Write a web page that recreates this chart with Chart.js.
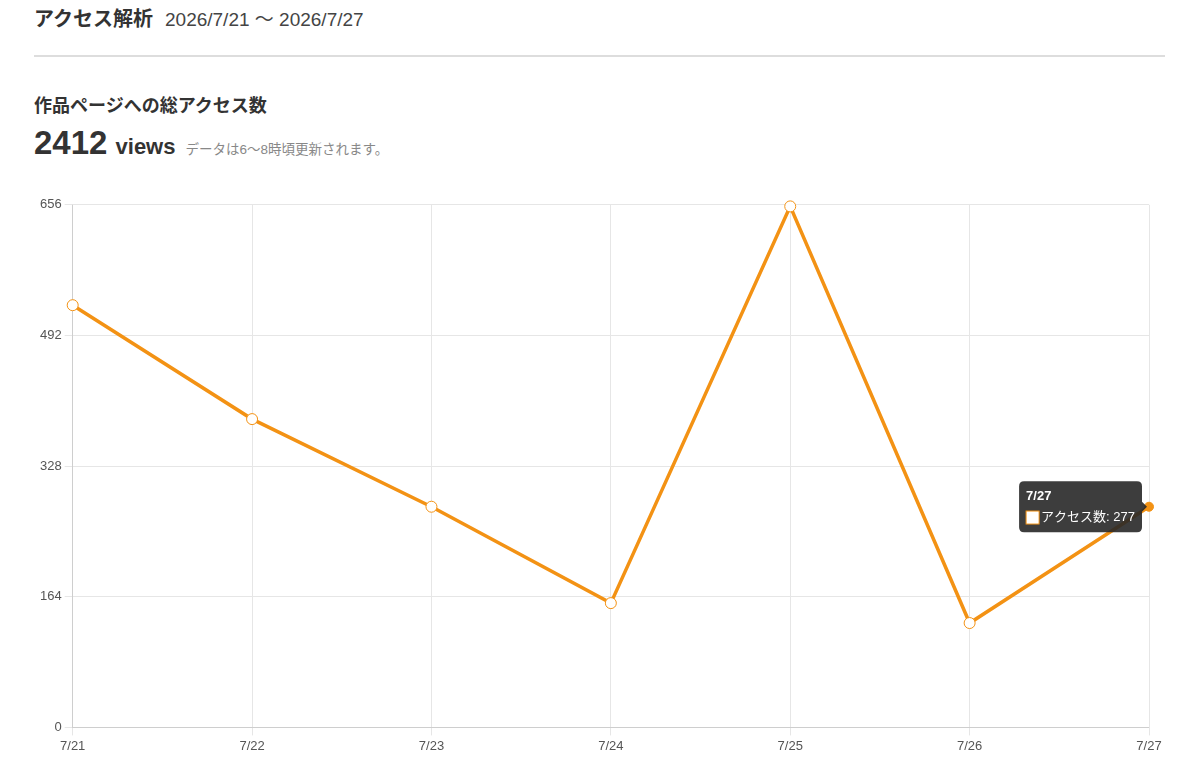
<!DOCTYPE html>
<html lang="ja">
<head>
<meta charset="utf-8">
<title>アクセス解析</title>
<script src="https://cdn.jsdelivr.net/npm/chart.js@4"></script>
<style>
  body {
    margin: 0;
    background: #fff;
    font-family: 'Liberation Sans', 'Noto Sans CJK JP', sans-serif;
    color: #333;
  }
  .cabecalho {
    position: absolute;
    left: 34px;
    top: 3px;
    width: 1131px;
    height: 52px;
    border-bottom: 2px solid #ddd;
  }
  .cabecalho h1 {
    margin: 0;
    font-size: 20px;
    font-weight: bold;
    display: inline-block;
  }
  .cabecalho .periodo {
    font-size: 19px;
    color: #444;
    margin-left: 12px;
  }
  .resumo {
    position: absolute;
    left: 34px;
    top: 91px;
  }
  .resumo h2 {
    margin: 0;
    font-size: 18px;
    font-weight: bold;
  }
  .total {
    margin-top: 7px;
    white-space: nowrap;
  }
  .total .num { font-size: 33px; font-weight: bold; }
  .total .unid { font-size: 22px; font-weight: bold; margin-left: 2px; }
  .total .nota { font-size: 13.5px; color: #888; margin-left: 10px; }
  #grafico {
    position: absolute;
    left: 34px;
    top: 194px;
  }
</style>
</head>
<body>
<div class="cabecalho">
  <h1>アクセス解析</h1><span class="periodo">2026/7/21 〜 2026/7/27</span>
</div>
<div class="resumo">
  <h2>作品ページへの総アクセス数</h2>
  <div class="total"><span class="num">2412</span><span class="unid"> views</span><span class="nota">データは6〜8時頃更新されます。</span></div>
</div>
<canvas id="grafico" width="1131" height="563"></canvas>
<script>
// Dados do gráfico
const dias = ['7/21', '7/22', '7/23', '7/24', '7/25', '7/26', '7/27'];
const acessos = [530, 387, 277, 156, 654, 131, 277];
const rotuloSerie = 'アクセス数';
const maximoY = 656;
const passoY = 164;

const laranja = '#f39214';

Chart.defaults.font.family = "'Liberation Sans', 'Noto Sans CJK JP', sans-serif";
Chart.defaults.font.size = 13;
Chart.defaults.color = '#555';

const grafico = new Chart(document.getElementById('grafico'), {
  type: 'line',
  data: {
    labels: dias,
    datasets: [{
      label: rotuloSerie,
      data: acessos,
      borderColor: laranja,
      backgroundColor: '#fff',
      borderWidth: 3.5,
      tension: 0,
      fill: false,
      clip: false,
      pointRadius: 5.5,
      pointBorderWidth: 1,
      pointBackgroundColor: '#fff',
      pointBorderColor: laranja,
      pointHoverRadius: 4.5,
      pointHoverBackgroundColor: laranja,
      pointHoverBorderColor: laranja
    }]
  },
  options: {
    responsive: false,
    animation: false,
    events: [],
    layout: { padding: { left: 3, right: 16 } },
    plugins: {
      legend: { display: false },
      tooltip: {
        backgroundColor: 'rgba(40,40,40,0.9)',
        titleFont: { size: 13, weight: 'bold' },
        bodyFont: { size: 13 },
        padding: 7,
        cornerRadius: 5
      }
    },
    scales: {
      x: {
        grid: { color: '#e6e6e6' }
      },
      y: {
        min: 0,
        max: maximoY,
        ticks: { stepSize: passoY },
        grid: { color: '#e6e6e6' }
      }
    }
  }
});

// Ponto ativo com tooltip (7/27)
const ativo = [{ datasetIndex: 0, index: dias.length - 1 }];
grafico.setActiveElements(ativo);
const ponto = grafico.getDatasetMeta(0).data[dias.length - 1];
grafico.tooltip.setActiveElements(ativo, { x: ponto.x, y: ponto.y });
grafico.update();
</script>
</body>
</html>
